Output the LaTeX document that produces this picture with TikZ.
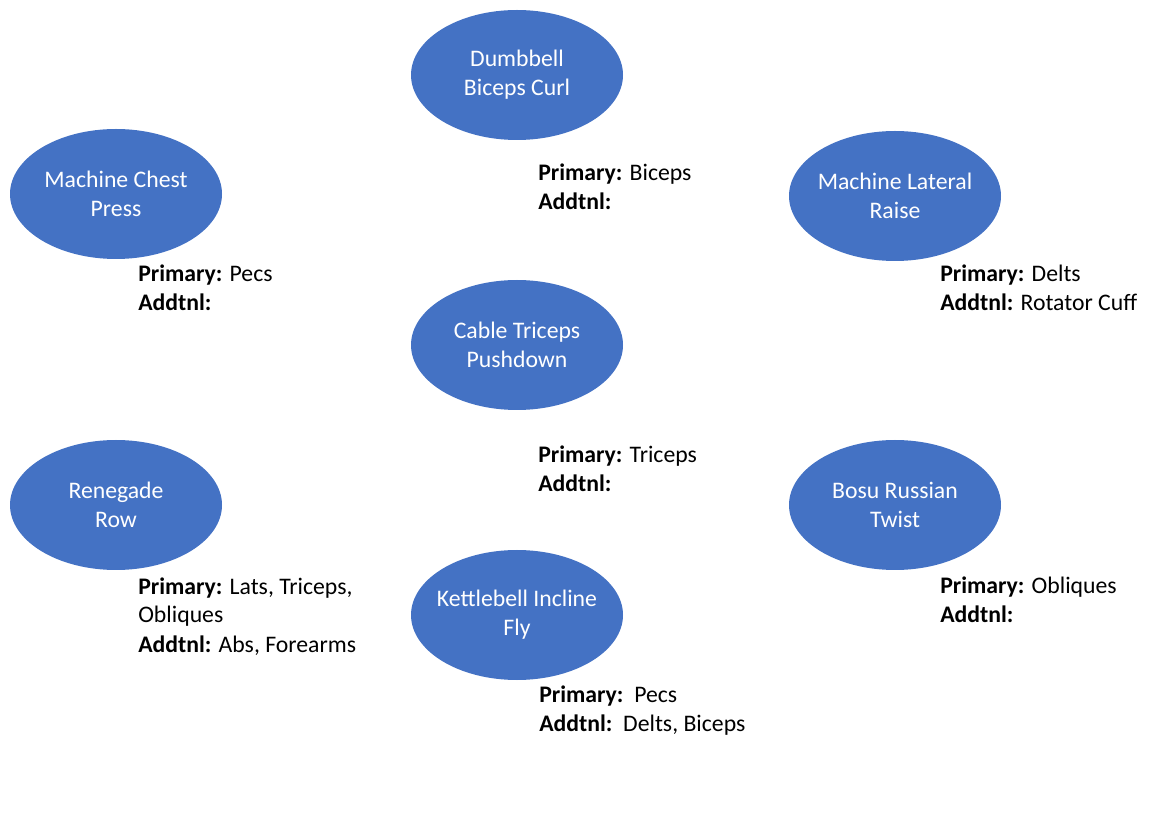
\documentclass[tikz,border=0pt]{standalone}
\usepackage{fontspec}
\setmainfont{Carlito}
\usetikzlibrary{shapes.geometric}
\definecolor{blueA}{HTML}{4472C4}
\tikzset{
  ex/.style={ellipse, fill=blueA, draw=none, minimum width=212*0.75pt, minimum height=130*0.75pt, inner xsep=-14pt, inner ysep=0pt, text=white, align=center, font=\fontsize{17.8}{21.75}\selectfont},
  info/.style={anchor=base west, inner sep=0pt, align=left, font=\fontsize{17.8}{21.75}\selectfont}
}
\begin{document}
\begin{tikzpicture}[x=0.75pt,y=-0.75pt]
\useasboundingbox (0,0) rectangle (1161,816);
\node[ex] (db) at (517,75) {Dumbbell\\Biceps Curl};
\node[ex] (mcp) at (116,194) {Machine Chest\\Press};
\node[ex] (mlr) at (895,196) {Machine Lateral\\Raise};
\node[ex] (ctp) at (517,345) {Cable Triceps\\Pushdown};
\node[ex] (rr) at (116,505) {Renegade\\Row};
\node[ex] (brt) at (895,505) {Bosu Russian\\Twist};
\node[ex] (kif) at (517,615) {Kettlebell Incline\\Fly};

\node[info] (t1) at (538,210) {\textbf{Primary:} Biceps\\\textbf{Addtnl:}};
\node[info] (t2) at (138,311) {\textbf{Primary:} Pecs\\\textbf{Addtnl:}};
\node[info] (t3) at (940,311) {\textbf{Primary:} Delts\\\textbf{Addtnl:} Rotator Cuff};
\node[info] (t4) at (538,492) {\textbf{Primary:} Triceps\\\textbf{Addtnl:}};
\node[info] (t5) at (138,652) {\textbf{Primary:} Lats, Triceps,\\Obliques\\\textbf{Addtnl:} Abs, Forearms};
\node[info] (t6) at (940,623) {\textbf{Primary:} Obliques\\\textbf{Addtnl:}};
\node[info] (t7) at (539,731) {\textbf{Primary:}\ \ Pecs\\\textbf{Addtnl:}\ \ Delts, Biceps};
\end{tikzpicture}
\end{document}
